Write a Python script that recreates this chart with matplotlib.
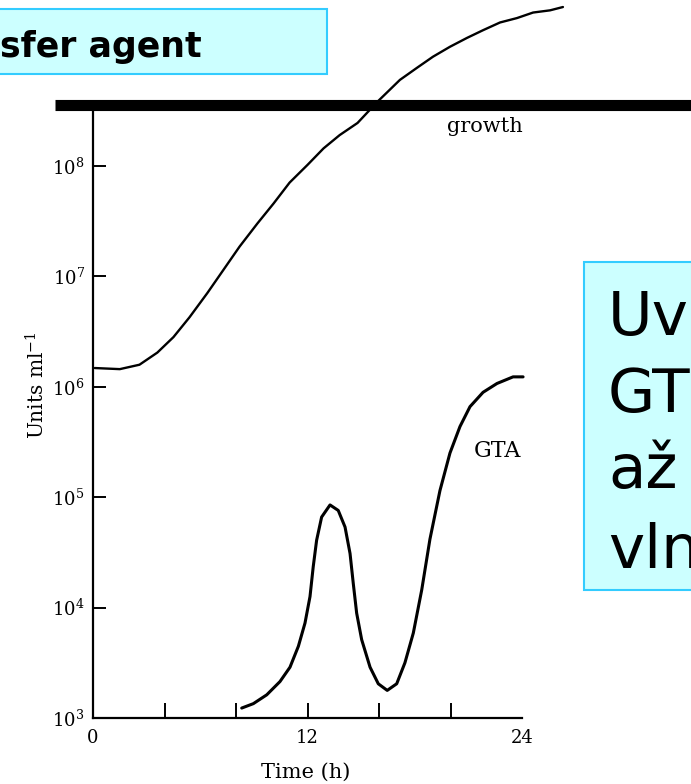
import numpy as np
import matplotlib
matplotlib.use("Agg")
import matplotlib.pyplot as plt
from matplotlib.patches import Rectangle
from matplotlib.lines import Line2D

# ---- data ----
growth_hours = [0.1, 1.5, 2.6, 3.6, 4.5, 5.4, 6.4, 7.3, 8.2, 9.2, 10.1, 11.0,
                12.0, 12.9, 13.8, 14.8, 15.9, 17.17, 18.13, 19.02, 19.97, 20.92,
                21.82, 22.77, 23.72, 24.62, 25.57, 26.29]
growth_log10 = [6.17, 6.16, 6.20, 6.31, 6.45, 6.63, 6.85, 7.06, 7.27, 7.48, 7.66, 7.85,
                8.01, 8.16, 8.28, 8.39, 8.58, 8.78, 8.89, 8.99, 9.08, 9.16,
                9.23, 9.30, 9.34, 9.39, 9.41, 9.44]

gta_hours = [8.32, 8.97, 9.72, 10.46, 11.02, 11.49, 11.86, 12.14, 12.32, 12.51, 12.79,
             13.26, 13.72, 14.10, 14.38, 14.56, 14.75, 15.03, 15.50, 15.96, 16.46,
             16.99, 17.45, 17.92, 18.39, 18.85, 19.41, 19.97, 20.53, 21.09, 21.82,
             22.60, 23.50, 24.06]
gta_log10 = [3.09, 3.13, 3.21, 3.33, 3.46, 3.65, 3.86, 4.10, 4.37, 4.61, 4.82,
             4.93, 4.88, 4.73, 4.49, 4.22, 3.95, 3.71, 3.46, 3.31, 3.25,
             3.31, 3.50, 3.77, 4.16, 4.62, 5.06, 5.40, 5.64, 5.82, 5.95,
             6.03, 6.09, 6.09]

x_ticks = [0, 4, 8, 12, 16, 20, 24]
x_ticklabels = ["0", "", "", "12", "", "", "24"]
y_ticks = [1e3, 1e4, 1e5, 1e6, 1e7, 1e8]
y_ticklabels = [r"$10^{3}$", r"$10^{4}$", r"$10^{5}$", r"$10^{6}$", r"$10^{7}$", r"$10^{8}$"]

W, H = 691, 784
plt.rcParams["mathtext.fontset"] = "dejavuserif"
plt.rcParams["font.family"] = ["DejaVu Serif"]

fig = plt.figure(figsize=(W / 100, H / 100), dpi=100)
fig.patch.set_facecolor("white")


def fx(x):
    return x / W


def fy(y):
    return 1 - y / H


ax_left, ax_right, ax_top, ax_bottom = 93, 522, 110, 718
ax = fig.add_axes([fx(ax_left), fy(ax_bottom), fx(ax_right) - fx(ax_left),
                   fy(ax_top) - fy(ax_bottom)])
ax.set_yscale("log")
ax.set_xlim(0, 24)
ax.set_ylim(1e3, 10 ** (3 + (ax_bottom - ax_top) / 110.4))
for s in ["top", "right"]:
    ax.spines[s].set_visible(False)
for s in ["left", "bottom"]:
    ax.spines[s].set_linewidth(1.6)

ax.plot(growth_hours, 10 ** np.array(growth_log10), color="black", lw=1.7,
        clip_on=False, solid_joinstyle="round", solid_capstyle="round")
ax.plot(gta_hours, 10 ** np.array(gta_log10), color="black", lw=2.2,
        clip_on=False, solid_joinstyle="round", solid_capstyle="round")

ax.set_xticks(x_ticks)
ax.set_xticklabels(x_ticklabels, fontsize=13)
ax.set_yticks(y_ticks)
ax.set_yticklabels(y_ticklabels, fontsize=13)
ax.yaxis.set_minor_locator(matplotlib.ticker.NullLocator())
ax.tick_params(axis="x", direction="in", length=11, width=1.4, pad=8)
ax.tick_params(axis="y", direction="in", length=9, width=1.4, pad=6)
xt = ax.xaxis.get_major_ticks()
xt[0].tick1line.set_visible(False)
xt[-1].tick1line.set_visible(False)
ax.yaxis.get_major_ticks()[0].tick1line.set_visible(False)

ax.set_xlabel("Time (h)", fontsize=15)
ax.xaxis.set_label_coords((306 - ax_left) / (ax_right - ax_left),
                          -(772 - ax_bottom) / (ax_bottom - ax_top))
ax.xaxis.label.set_va("center")
ax.set_ylabel(r"Units ml$^{-1}$", fontsize=14.5)
ax.yaxis.set_label_coords(-(ax_left - 37) / (ax_right - ax_left),
                          (ax_bottom - 385) / (ax_bottom - ax_top))
ax.yaxis.label.set_va("center")

fig.text(fx(485), fy(126), "growth", fontsize=15, ha="center", va="center")
fig.text(fx(497), fy(451), "GTA", fontsize=16, ha="center", va="center")

# thick black rule across the top of the plot
fig.add_artist(Line2D([fx(55), fx(W + 5)], [fy(104.5), fy(104.5)],
                      color="black", lw=8, solid_capstyle="butt"))

# top-left title box
fig.add_artist(Rectangle((fx(-5), fy(74)), fx(332), fy(9) - fy(74),
                         facecolor="#ccffff", edgecolor="#33ccff", lw=1.5))
fig.text(fx(0), fy(57), "sfer agent", fontsize=25, fontweight="bold",
         family=["DejaVu Sans"], ha="left", va="baseline")

# right note box
fig.add_artist(Rectangle((fx(584), fy(590)), fx(120), fy(262) - fy(590),
                         facecolor="#ccffff", edgecolor="#33ccff", lw=1.5))
for txt, base in zip(["Uv", "GT", "až", "vln"], [335, 412, 488, 568]):
    fig.text(fx(608), fy(base), txt, fontsize=44, family=["DejaVu Sans"],
             ha="left", va="baseline")

fig.savefig("out.png", dpi=100)
